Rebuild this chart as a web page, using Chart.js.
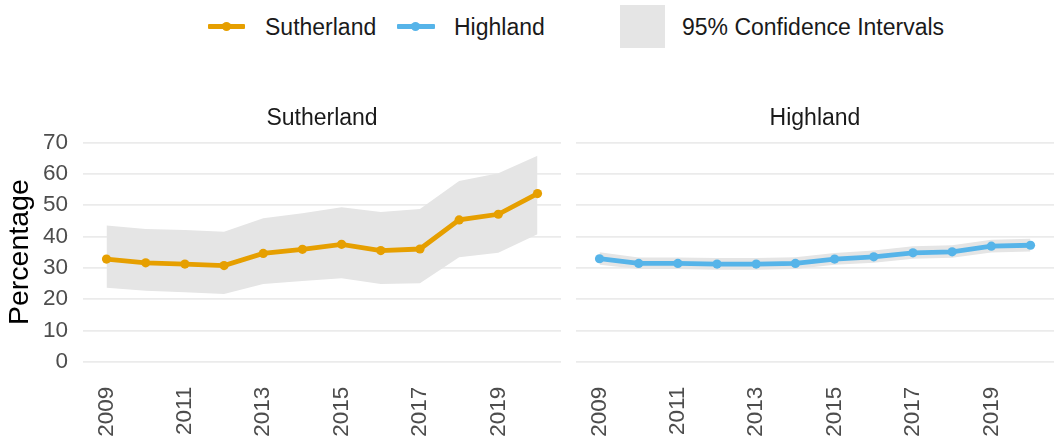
<!DOCTYPE html>
<html>
<head>
<meta charset="utf-8">
<script src="https://cdn.jsdelivr.net/npm/chart.js@4/dist/chart.umd.min.js"></script>
<style>
  html, body { margin: 0; padding: 0; background: #ffffff; }
  #wrap { position: relative; width: 1059px; height: 444px; overflow: hidden; font-family: "Liberation Sans", Arial, sans-serif; }
  .lg-text { position: absolute; font-size: 23px; color: #1a1a1a; line-height: 28px; white-space: nowrap; }
  .lg-line { position: absolute; height: 5px; border-radius: 1px; }
  .lg-dot { position: absolute; width: 9px; height: 9px; border-radius: 50%; }
  canvas { position: absolute; }
</style>
</head>
<body>
<div id="wrap">
  <div class="lg-line" style="left:208px; top:24px; width:37px; background:#E69F00;"></div>
  <div class="lg-dot" style="left:222px; top:22px; background:#E69F00;"></div>
  <div class="lg-text" style="left:265px; top:13px;">Sutherland</div>
  <div class="lg-line" style="left:397px; top:24px; width:38px; background:#56B4E9;"></div>
  <div class="lg-dot" style="left:411px; top:22px; background:#56B4E9;"></div>
  <div class="lg-text" style="left:454px; top:13px;">Highland</div>
  <div style="position:absolute; left:620px; top:5px; width:45px; height:43px; background:#e5e5e5;"></div>
  <div class="lg-text" style="left:682px; top:13px;">95% Confidence Intervals</div>
  <canvas id="left" width="566" height="354" style="left:0px; top:90px;"></canvas>
  <canvas id="right" width="493" height="354" style="left:566px; top:90px;"></canvas>
</div>
<script>
const years = [2009, 2010, 2011, 2012, 2013, 2014, 2015, 2016, 2017, 2018, 2019, 2020];
const sutherland      = [32.8, 31.6, 31.2, 30.7, 34.6, 35.9, 37.5, 35.5, 36.0, 45.3, 47.1, 53.7];
const sutherlandUpper = [43.5, 42.4, 42.1, 41.5, 45.8, 47.4, 49.3, 47.8, 48.8, 57.7, 60.2, 65.8];
const sutherlandLower = [23.6, 22.7, 22.2, 21.6, 24.8, 25.8, 26.7, 24.8, 25.1, 33.4, 34.8, 40.7];
const highland        = [32.9, 31.4, 31.4, 31.2, 31.2, 31.4, 32.8, 33.5, 34.8, 35.1, 36.9, 37.2];
const highlandUpper   = [35.0, 33.3, 33.3, 33.1, 33.1, 33.4, 34.7, 35.5, 36.9, 37.2, 39.0, 39.3];
const highlandLower   = [31.0, 29.6, 29.6, 29.4, 29.4, 29.6, 31.0, 31.6, 32.9, 33.2, 34.9, 35.2];
const yTicks = [0, 10, 20, 30, 40, 50, 60, 70];
const xTicks = [2009, 2011, 2013, 2015, 2017, 2019];
const panelTitles = ['Sutherland', 'Highland'];
const yTitle = 'Percentage';

const FONT = '"Liberation Sans", Arial, sans-serif';

function pts(arr) { return years.map((yr, i) => ({ x: yr, y: arr[i] })); }

const facetTitlePlugin = {
  id: 'facetTitle',
  afterDraw(chart, args, opts) {
    const ca = chart.chartArea;
    const ctx = chart.ctx;
    ctx.save();
    ctx.font = '23px ' + FONT;
    ctx.fillStyle = '#1a1a1a';
    ctx.textAlign = 'center';
    ctx.textBaseline = 'middle';
    ctx.fillText(opts.text, (ca.left + ca.right) / 2, ca.top - 12.5);
    ctx.restore();
  }
};

function makeChart(id, title, values, upper, lower, color, showY) {
  const ctx = document.getElementById(id).getContext('2d');
  return new Chart(ctx, {
    type: 'line',
    plugins: [facetTitlePlugin],
    data: {
      datasets: [
        {
          data: pts(values),
          borderColor: color,
          backgroundColor: color,
          borderWidth: 4.8,
          pointRadius: 4.6,
          pointBorderWidth: 0,
          pointBackgroundColor: color,
          tension: 0,
          fill: false
        },
        {
          data: pts(upper),
          borderWidth: 0,
          borderColor: 'rgba(0,0,0,0)',
          pointRadius: 0,
          fill: false
        },
        {
          data: pts(lower),
          borderWidth: 0,
          borderColor: 'rgba(0,0,0,0)',
          pointRadius: 0,
          backgroundColor: '#e5e5e5',
          fill: '-1'
        }
      ]
    },
    options: {
      responsive: false,
      devicePixelRatio: 1,
      animation: false,
      events: [],
      layout: { padding: { left: 0, right: 5, top: 41.6, bottom: 0 } },
      plugins: {
        legend: { display: false },
        tooltip: { enabled: false },
        title: { display: false },
        facetTitle: { text: title }
      },
      scales: {
        x: {
          type: 'linear',
          min: 2008.4,
          max: 2020.6,
          afterBuildTicks: (s) => { s.ticks = xTicks.map(v => ({ value: v })); },
          afterFit: (s) => { s.height = 71.3; },
          grid: { display: false, drawTicks: false },
          border: { display: false },
          ticks: {
            color: '#4d4d4d',
            font: { family: FONT, size: 22.5 },
            minRotation: 90,
            maxRotation: 90,
            padding: 14,
            autoSkip: false,
            callback: (v) => String(v)
          }
        },
        y: {
          type: 'linear',
          min: -3.5,
          max: 73.5,
          afterBuildTicks: (s) => { s.ticks = yTicks.map(v => ({ value: v })); },
          afterFit: (s) => { s.width = showY ? 83 : 10; },
          grid: { color: '#ebebeb', lineWidth: 1.8, drawTicks: false },
          border: { display: false },
          ticks: {
            display: showY,
            color: '#4d4d4d',
            font: { family: FONT, size: 22.5 },
            padding: 15,
            callback: (v) => String(v)
          },
          title: {
            display: showY,
            text: yTitle,
            color: '#000000',
            font: { family: FONT, size: 28.5, lineHeight: 1.2 },
            padding: { top: 3.4, bottom: 0 }
          }
        }
      }
    }
  });
}

makeChart('left', panelTitles[0], sutherland, sutherlandUpper, sutherlandLower, '#E69F00', true);
makeChart('right', panelTitles[1], highland, highlandUpper, highlandLower, '#56B4E9', false);
</script>
</body>
</html>
